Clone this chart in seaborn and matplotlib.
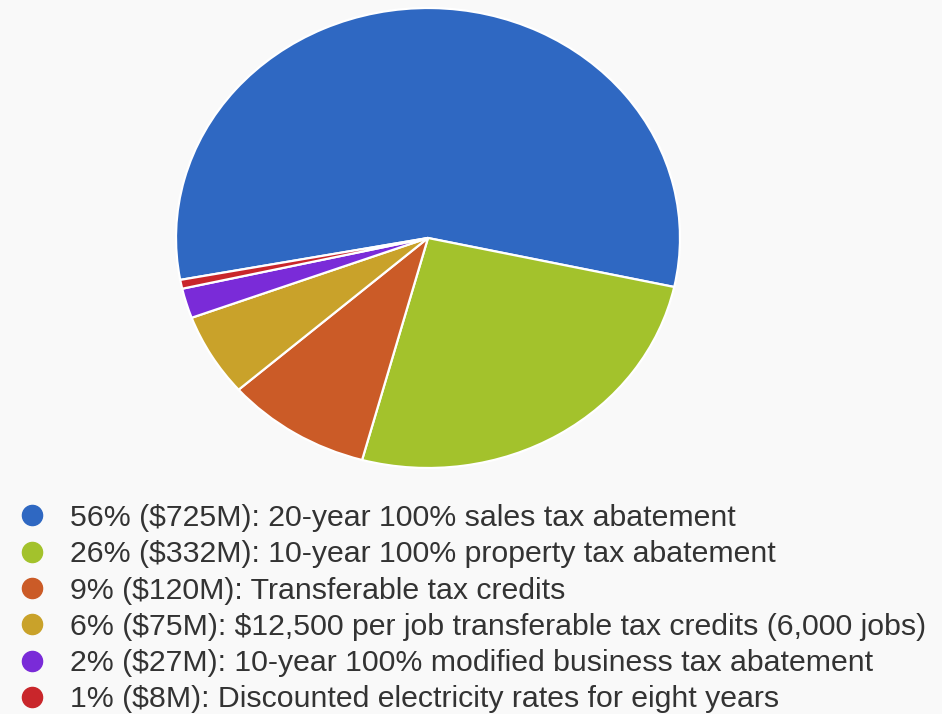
import matplotlib
matplotlib.use("Agg")
import matplotlib.pyplot as plt
from matplotlib.lines import Line2D
import seaborn as sns

# Incentive package breakdown
shares = ["56%", "26%", "9%", "6%", "2%", "1%"]
amounts_musd = [725, 332, 120, 75, 27, 8]
descriptions = [
    "20-year 100% sales tax abatement",
    "10-year 100% property tax abatement",
    "Transferable tax credits",
    "$12,500 per job transferable tax credits (6,000 jobs)",
    "10-year 100% modified business tax abatement",
    "Discounted electricity rates for eight years",
]
slice_colors = ["#2F68C2", "#A3C22C", "#CB5B27", "#C9A22A", "#7A2BD8", "#C9262B"]

labels = [f"{s} (${a}M): {d}" for s, a, d in zip(shares, amounts_musd, descriptions)]

sns.set_theme(style="white")
plt.rcParams["font.family"] = ["Liberation Sans", "DejaVu Sans"]
plt.rcParams["text.parse_math"] = False

W, H = 942, 714
bg = "#F9F9F9"
fig = plt.figure(figsize=(W / 100, H / 100), dpi=100, facecolor=bg)

# Pie area (slightly wider than tall)
cx, cy, rx, ry = 428, 238, 252, 230
ax = fig.add_axes([(cx - rx) / W, (H - cy - ry) / H, 2 * rx / W, 2 * ry / H])
ax.set_facecolor(bg)
palette = sns.color_palette(slice_colors)
ax.pie(
    amounts_musd,
    colors=palette,
    startangle=190.5,
    counterclock=False,
    radius=1.0,
    wedgeprops=dict(edgecolor="white", linewidth=1.6),
)
ax.set_aspect("auto")
ax.set_xlim(-1, 1)
ax.set_ylim(-1, 1)
ax.axis("off")

handles = [
    Line2D([], [], marker="o", linestyle="none", markersize=14.5,
           markerfacecolor=c, markeredgecolor=c)
    for c in palette
]
leg = fig.legend(
    handles, labels,
    loc="upper left",
    bbox_to_anchor=(17 / W, 1 - 504 / H),
    frameon=False,
    fontsize=21.8,
    labelcolor="#333333",
    handlelength=1.0,
    handletextpad=0.75,
    labelspacing=0.274,
    borderaxespad=0,
    borderpad=0,
)

fig.savefig("out.png", dpi=100, facecolor=bg)
